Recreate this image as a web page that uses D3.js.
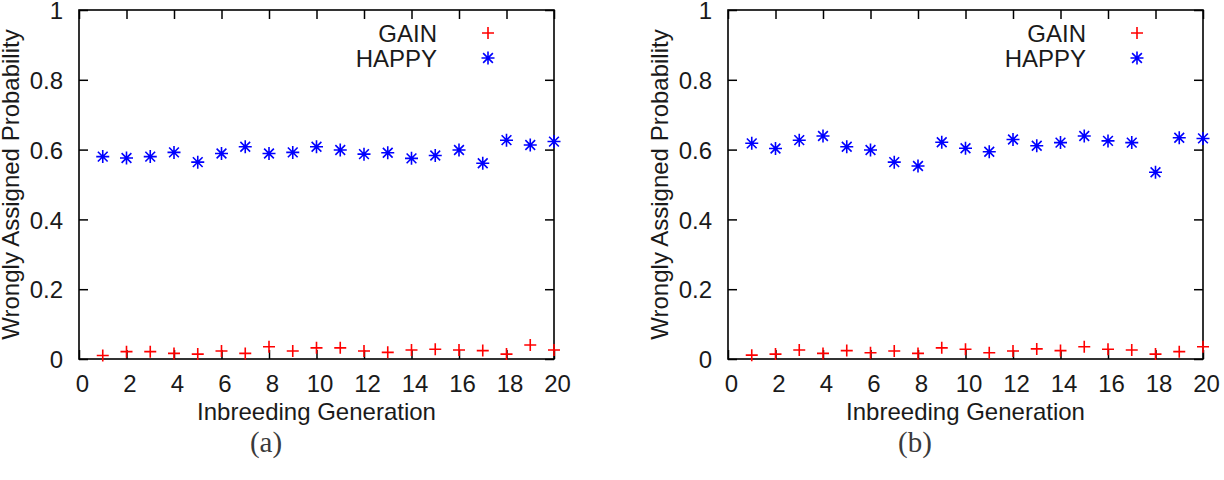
<!DOCTYPE html>
<html>
<head>
<meta charset="utf-8">
<script src="https://cdn.jsdelivr.net/npm/d3@7/dist/d3.min.js"></script>
<style>
  html, body { margin: 0; padding: 0; background: #fff; }
  svg { display: block; }
</style>
</head>
<body>
<svg id="chart" width="1224" height="480"></svg>
<script>
// ---- data ----
const generations = [1,2,3,4,5,6,7,8,9,10,11,12,13,14,15,16,17,18,19,20];

const gainA  = [0.010,0.021,0.021,0.016,0.014,0.023,0.016,0.035,0.023,0.032,0.032,0.023,0.019,0.026,0.028,0.026,0.024,0.014,0.040,0.026];
const happyA = [0.580,0.576,0.580,0.592,0.564,0.589,0.608,0.589,0.592,0.608,0.599,0.587,0.591,0.575,0.583,0.599,0.561,0.627,0.613,0.623];

const gainB  = [0.011,0.014,0.026,0.016,0.024,0.018,0.023,0.016,0.032,0.028,0.018,0.023,0.029,0.024,0.035,0.028,0.026,0.014,0.021,0.035];
const happyB = [0.618,0.603,0.627,0.639,0.608,0.599,0.564,0.553,0.621,0.604,0.594,0.629,0.611,0.620,0.639,0.625,0.620,0.535,0.634,0.632];

const xTicks = [0,2,4,6,8,10,12,14,16,18,20];
const yTicks = [0,0.2,0.4,0.6,0.8,1];
const yTickLabels = ["0","0.2","0.4","0.6","0.8","1"];
const seriesNames = ["GAIN","HAPPY"];
const captions = ["(a)","(b)"];
const xTitle = "Inbreeding Generation";
const yTitle = "Wrongly Assigned Probability";

// ---- layout ----
const svg = d3.select("#chart");
const FONT = "'Liberation Sans', Arial, Helvetica, sans-serif";
const FS = "24px";
const TXT = "#1a1a1a";
const panels = [
  { ox: 0,   gain: gainA, happy: happyA, cap: captions[0] },
  { ox: 649, gain: gainB, happy: happyB, cap: captions[1] }
];
const plotL = 79, plotR = 554, plotT = 10, plotB = 359;

function plusPath(s) { return `M${-s},0H${s}M0,${-s}V${s}`; }
function starPath(s) {
  const d = s * 0.75;
  return `M${-s},0H${s}M0,${-s}V${s}M${-d},${-d}L${d},${d}M${-d},${d}L${d},${-d}`;
}

panels.forEach(p => {
  const g = svg.append("g").attr("transform", `translate(${p.ox},0)`);
  const x = d3.scaleLinear().domain([0, 20]).range([plotL, plotR]);
  const y = d3.scaleLinear().domain([0, 1]).range([plotB, plotT]);

  const tk = 9;
  const bx = g.append("g").attr("transform", `translate(0,${plotB})`)
    .call(d3.axisBottom(x).tickValues(xTicks).tickSize(-tk).tickSizeOuter(0).tickFormat(d3.format("d")));
  bx.selectAll("text").attr("y", 33).attr("dy", null).attr("dx", 3);
  const tx = g.append("g").attr("transform", `translate(0,${plotT})`)
    .call(d3.axisTop(x).tickValues(xTicks).tickSize(-tk).tickSizeOuter(0).tickFormat(""));
  const ly = g.append("g").attr("transform", `translate(${plotL},0)`)
    .call(d3.axisLeft(y).tickValues(yTicks).tickSize(-tk).tickSizeOuter(0)
      .tickFormat((d, i) => yTickLabels[i]));
  ly.selectAll("text").attr("x", -16).attr("dy", "0.36em");
  const ry = g.append("g").attr("transform", `translate(${plotR},0)`)
    .call(d3.axisRight(y).tickValues(yTicks).tickSize(-tk).tickSizeOuter(0).tickFormat(""));

  [bx, tx, ly, ry].forEach(a => {
    a.select(".domain").remove();
    a.selectAll("line").attr("stroke", "#000").attr("stroke-width", 1.5);
    a.selectAll("text").attr("fill", TXT).style("font-family", FONT).style("font-size", FS);
  });

  g.append("rect").attr("x", plotL).attr("y", plotT)
    .attr("width", plotR - plotL).attr("height", plotB - plotT)
    .attr("fill", "none").attr("stroke", "#000").attr("stroke-width", 1.6);

  g.append("g").selectAll("path").data(generations).join("path")
    .attr("transform", (d, i) => `translate(${x(d)},${y(p.gain[i])})`)
    .attr("d", plusPath(6))
    .attr("stroke", "#ff0000").attr("stroke-width", 1.6).attr("fill", "none");
  g.append("g").selectAll("path").data(generations).join("path")
    .attr("transform", (d, i) => `translate(${x(d)},${y(p.happy[i])})`)
    .attr("d", starPath(6.5))
    .attr("stroke", "#0000ff").attr("stroke-width", 1.6).attr("fill", "none");

  const leg = g.append("g");
  const legY = [42, 67];
  seriesNames.forEach((name, i) => {
    leg.append("text").attr("x", 437).attr("y", legY[i])
      .attr("text-anchor", "end").attr("fill", TXT)
      .style("font-family", FONT).style("font-size", FS).text(name);
  });
  leg.append("path").attr("transform", `translate(488,33)`).attr("d", plusPath(6))
    .attr("stroke", "#ff0000").attr("stroke-width", 1.6).attr("fill", "none");
  leg.append("path").attr("transform", `translate(488,58)`).attr("d", starPath(6.5))
    .attr("stroke", "#0000ff").attr("stroke-width", 1.6).attr("fill", "none");

  g.append("text").attr("x", (plotL + plotR) / 2).attr("y", 420)
    .attr("text-anchor", "middle").attr("fill", TXT)
    .style("font-family", FONT).style("font-size", FS).text(xTitle);
  g.append("text").attr("transform", `translate(19,${(plotT + plotB) / 2}) rotate(-90)`)
    .attr("text-anchor", "middle").attr("fill", TXT)
    .style("font-family", FONT).style("font-size", FS).text(yTitle);

  g.append("text").attr("x", 266).attr("y", 452)
    .attr("text-anchor", "middle").attr("fill", "#3a3a3a")
    .style("font-family", "'Liberation Serif', 'DejaVu Serif', serif").style("font-size", "29px").text(p.cap);
});
</script>
</body>
</html>
